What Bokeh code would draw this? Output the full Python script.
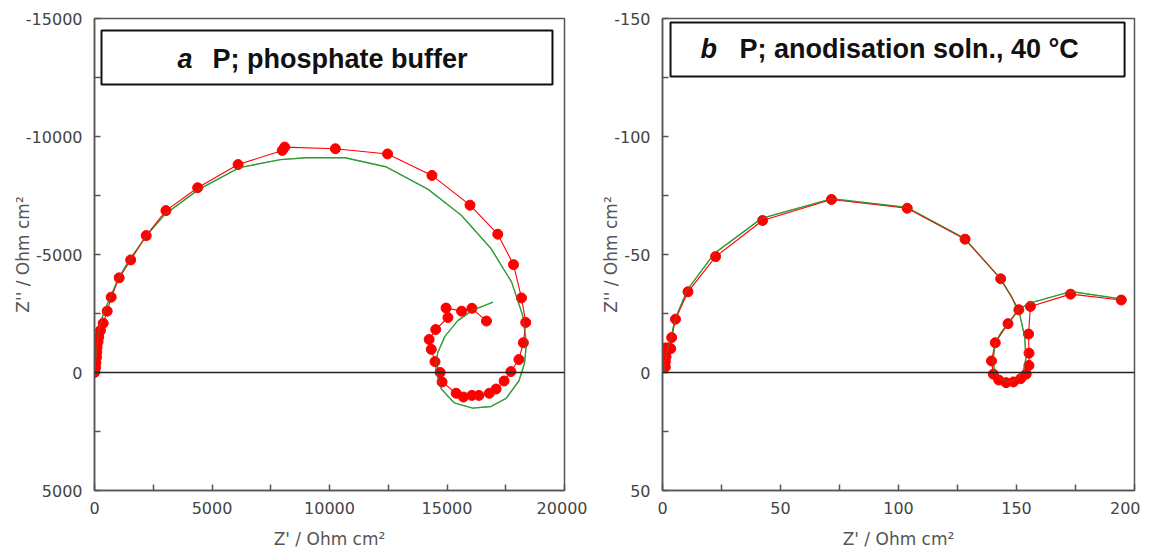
from bokeh.plotting import figure
from bokeh.layouts import row
from bokeh.models import Range1d, FixedTicker, Span, BoxAnnotation, Label
from bokeh.embed import file_html
from bokeh.resources import INLINE

# ---------------- data: panel a (phosphate buffer) ----------------
a_meas_x = [0, 20, 42, 60, 85, 100, 110, 150, 180, 254, 370, 540, 710, 1050, 1540,
            2200, 3040, 4390, 6110, 7990, 8090, 10250, 12470, 14360, 15980, 17160,
            17830, 18170, 18350, 18250, 18060, 17720, 17430, 17090, 16800, 16360,
            16060, 15700, 15390, 14790, 14710, 14490, 14330, 14240, 14520, 15040,
            14960, 15620, 16060, 16680]
a_meas_y = [0, -120, -225, -420, -650, -860, -1070, -1300, -1500, -1780, -2090, -2600,
            -3190, -4010, -4770, -5800, -6860, -7830, -8810, -9410, -9550, -9480, -9260,
            -8350, -7090, -5860, -4570, -3160, -2120, -1260, -550, -40, 360, 700, 880,
            970, 970, 1040, 880, 400, 0, -460, -980, -1400, -1820, -2330, -2730, -2600,
            -2720, -2180]
a_fit_x = [0, 100, 190, 400, 660, 1000, 1450, 2240, 3020, 4440, 6170, 7910, 9010,
           10660, 12390, 14200, 15620, 16880, 17750, 18220, 18380, 18300, 18060, 17510,
           16880, 16090, 15310, 14760, 14520, 14600, 14910, 15460, 16090, 16960]
a_fit_y = [0, -1000, -1870, -2550, -3160, -3950, -4720, -5830, -6720, -7760, -8680,
           -9020, -9100, -9100, -8720, -7760, -6650, -5240, -3830, -2420, -1230, -390,
           360, 1100, 1440, 1510, 1290, 700, -90, -830, -1530, -2200, -2640, -2980]
a_xticks = [0, 5000, 10000, 15000, 20000]
a_yticks = [-15000, -10000, -5000, 0, 5000]
a_xlabels = ["0", "5000", "10000", "15000", "20000"]
a_ylabels = ["-15000", "-10000", "-5000", "0", "5000"]

# ---------------- data: panel b (anodisation solution, 40 C) ----------------
b_meas_x = [1.2, 1.2, 1.5, 1.2, 2.3, 3.5, 3.9, 5.5, 10.8, 22.5, 42.4, 71.6, 103.7,
            128.2, 143.3, 151.0, 146.4, 141.0, 139.4, 140.2, 142.5, 145.6, 148.7,
            151.8, 154.1, 155.3, 155.3, 155.1, 155.9, 172.9, 194.4]
b_meas_y = [-2.3, -4.5, -6.7, -10.4, -10.4, -10.1, -14.8, -22.6, -34.2, -49.1, -64.4,
            -73.3, -69.6, -56.5, -39.7, -26.6, -20.7, -12.6, -4.9, 0.7, 3.2, 4.3, 4.0,
            2.6, 0.7, -3.0, -8.2, -16.3, -28.0, -33.2, -30.7]
b_fit_x = [0.5, 1, 1.5, 3.5, 5.5, 10.5, 22, 42, 71.6, 103.7, 128, 143, 148, 151.5,
           153.5, 154, 153, 150.5, 147, 143.5, 141, 140, 141, 143.5, 147, 151, 156,
           172.9, 194.4]
b_fit_y = [0, -2, -8, -14.5, -23, -35, -50.5, -65.3, -73.6, -69.9, -56.8, -40, -32,
           -24, -15, -6, -1, 2.8, 4, 3, 0.5, -5, -12.6, -17, -21.5, -27, -29.5, -34.3,
           -31.2]
b_xticks = [0, 50, 100, 150, 200]
b_yticks = [-150, -100, -50, 0, 50]
b_xlabels = ["0", "50", "100", "150", "200"]
b_ylabels = ["-150", "-100", "-50", "0", "50"]

x_title = "Z' / Ohm cm\u00b2"
y_title = "Z'' / Ohm cm\u00b2"

AX = "#555555"
RED = "#ff0000"
GREEN = "#339a3a"


def panel(xr, yr, xt, yt, xl, yl, mx, my, fx, fy, left_border, right_border, fw,
          box, letter, title, letter_pos, title_pos):
    p = figure(frame_width=fw, frame_height=472,
               x_range=Range1d(*xr), y_range=Range1d(*yr),
               output_backend="svg", toolbar_location=None,
               min_border_left=left_border, min_border_right=right_border,
               min_border_top=18, min_border_bottom=59,
               background_fill_color="white", border_fill_color="white")
    p.grid.visible = False
    p.outline_line_color = AX
    p.outline_line_width = 1.5
    p.outline_line_alpha = 1

    xs = xt[1] - xt[0]
    ys = yt[1] - yt[0]
    p.xaxis.ticker = FixedTicker(ticks=xt, minor_ticks=[t + xs / 2 for t in xt[:-1]])
    p.yaxis.ticker = FixedTicker(ticks=yt, minor_ticks=[t + ys / 2 for t in yt[:-1]])
    p.xaxis.major_label_overrides = {t: l for t, l in zip(xt, xl)}
    p.yaxis.major_label_overrides = {t: l for t, l in zip(yt, yl)}
    for ax in (p.xaxis, p.yaxis):
        ax.axis_line_color = AX
        ax.axis_line_width = 1.5
        ax.major_tick_line_color = AX
        ax.minor_tick_line_color = AX
        ax.major_tick_line_width = 1.5
        ax.minor_tick_line_width = 1.5
        ax.major_tick_in = 6
        ax.major_tick_out = 0
        ax.minor_tick_in = 6
        ax.minor_tick_out = 0
        ax.major_label_text_font = "DejaVu Sans"
        ax.major_label_text_font_size = "16px"
        ax.major_label_text_color = "#444444"
        ax.axis_label_text_font = "DejaVu Sans"
        ax.axis_label_text_font_size = "17px"
        ax.axis_label_text_font_style = "normal"
        ax.axis_label_text_color = "#555555"
    p.xaxis.axis_label = x_title
    p.yaxis.axis_label = y_title
    p.xaxis.major_label_standoff = 11
    p.yaxis.major_label_standoff = 12
    p.xaxis.axis_label_standoff = 12
    p.yaxis.axis_label_standoff = -10

    p.add_layout(Span(location=0, dimension="width", line_color="#222222", line_width=1.5))

    p.line(fx, fy, line_color=GREEN, line_width=1.4)
    p.line(mx, my, line_color=RED, line_width=1.1)
    p.scatter(mx, my, size=10, fill_color=RED, line_color=RED, marker="circle")
    p.line(fx, fy, line_color=GREEN, line_width=1.0, line_alpha=0.55)

    l, r, t, b = box
    p.add_layout(BoxAnnotation(left=l, right=r, top=t, bottom=b,
                               fill_color="white", fill_alpha=1,
                               line_color="#111111", line_width=2, line_alpha=1))
    p.add_layout(Label(x=letter_pos[0], y=letter_pos[1], text=letter,
                       text_font="Liberation Sans", text_font_size="27px",
                       text_font_style="bold italic", text_color="#111111",
                       text_align="left", text_baseline="middle"))
    p.add_layout(Label(x=title_pos[0], y=title_pos[1], text=title,
                       text_font="Liberation Sans", text_font_size="27px",
                       text_font_style="bold", text_color="#111111",
                       text_align="left", text_baseline="middle"))
    return p


p1 = panel((0, 20000), (5000, -15000), a_xticks, a_yticks, a_xlabels, a_ylabels,
           a_meas_x, a_meas_y, a_fit_x, a_fit_y, 94, 23, 470,
           (298, 19489, -14492, -12203), "a", "P; phosphate buffer",
           (3530, -13300), (5020, -13300))
p2 = panel((0, 200), (50, -150), b_xticks, b_yticks, b_xlabels, b_ylabels,
           b_meas_x, b_meas_y, b_fit_x, b_fit_y, 75, 6, 472,
           (3.4, 195.8, -148.3, -125.4), "b", "P; anodisation soln., 40 \u00b0C",
           (16.1, -136.9), (32.6, -136.9))

layout = row(p1, p2)
layout.spacing = 0
open("out.html", "w").write(file_html(layout, INLINE))
